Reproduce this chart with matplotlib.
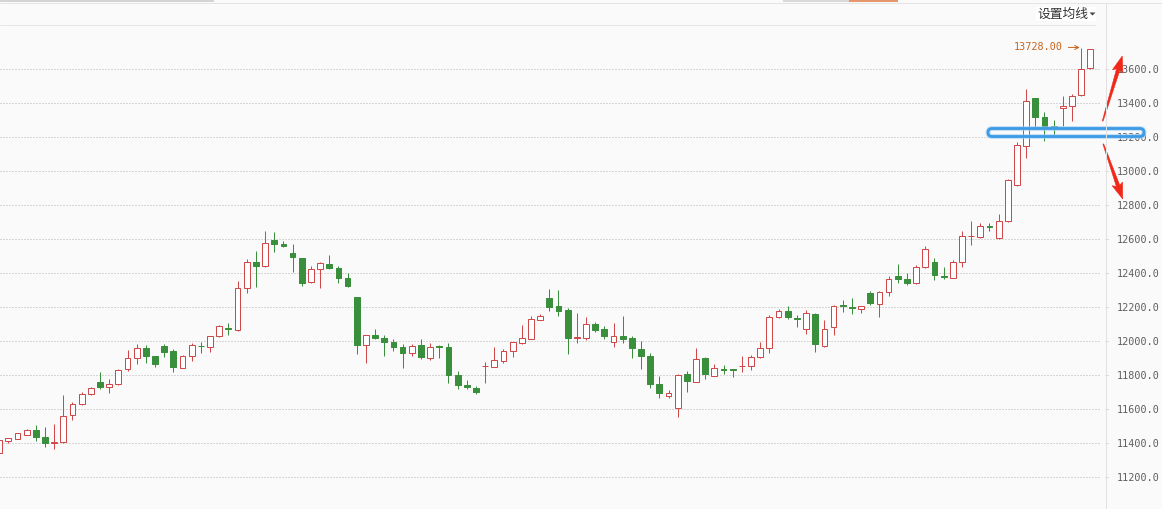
import matplotlib
matplotlib.use('Agg')
import matplotlib.pyplot as plt
from matplotlib.patches import Rectangle, FancyBboxPatch, Polygon
from matplotlib.transforms import IdentityTransform
from matplotlib.lines import Line2D
import numpy as np

plt.rcParams['lines.scale_dashes'] = False

# ---- data (daily OHLC, first candle partially off-screen) ----
opens = [11345, 11415, 11427, 11451, 11478, 11435, 11404, 11410, 11565, 11629,
         11688, 11761, 11729, 11747, 11835, 11900, 11960, 11913, 11972, 11943,
         11845, 11911, 11975, 11968, 12029, 12076, 12064, 12311, 12466, 12441,
         12596, 12572, 12519, 12490, 12351, 12423, 12455, 12429, 12370, 12261,
         11976, 12037, 12021, 11996, 11966, 11929, 11976, 11900, 11970, 11966,
         11802, 11743, 11723, 11853, 11851, 11886, 11945, 11992, 12015, 12127,
         12255, 12208, 12184, 12019, 12021, 12104, 12072, 11998, 12031, 12019,
         11955, 11914, 11749, 11680, 11610, 11808, 11763, 11900, 11798, 11837,
         11835, 11853, 11857, 11906, 11959, 12141, 12176, 12137, 12074, 12161,
         11970, 12086, 12212, 12202, 12192, 12284, 12221, 12288, 12384, 12367,
         12341, 12439, 12466, 12384, 12374, 12464, 12617, 12612, 12678, 12606,
         12706, 12917, 13147, 13429, 13317, 13267, 13370, 13382, 13447, 13606]
highs = [11422, 11430, 11463, 11484, 11508, 11498, 11514, 11684, 11643, 11702,
         11731, 11819, 11778, 11839, 11949, 11982, 11976, 11915, 11984, 11955,
         11919, 11990, 11994, 12033, 12094, 12106, 12355, 12486, 12531, 12649,
         12641, 12590, 12572, 12492, 12443, 12468, 12508, 12443, 12400, 12263,
         12037, 12072, 12037, 12013, 11984, 11982, 12013, 11988, 11980, 11988,
         11825, 11772, 11739, 11878, 11966, 11955, 11998, 12096, 12149, 12161,
         12308, 12302, 12194, 12166, 12141, 12114, 12088, 12108, 12149, 12031,
         12002, 11931, 11794, 11712, 11806, 11825, 11961, 11910, 11864, 11861,
         11837, 11912, 11918, 11998, 12153, 12188, 12206, 12157, 12182, 12166,
         12123, 12213, 12243, 12253, 12208, 12296, 12296, 12382, 12455, 12400,
         12449, 12561, 12490, 12437, 12478, 12649, 12708, 12694, 12694, 12749,
         12957, 13172, 13484, 13431, 13347, 13302, 13441, 13455, 13728, 13722]
lows = [11340, 11400, 11425, 11450, 11415, 11380, 11365, 11404, 11537, 11627,
        11686, 11721, 11698, 11745, 11827, 11864, 11874, 11851, 11906, 11821,
        11841, 11886, 11933, 11935, 12027, 12039, 12062, 12286, 12321, 12439,
        12527, 12557, 12410, 12327, 12345, 12315, 12427, 12345, 12321, 11925,
        11874, 12012, 11913, 11943, 11845, 11913, 11898, 11892, 11904, 11757,
        11721, 11721, 11688, 11757, 11849, 11870, 11910, 11986, 12013, 12125,
        12180, 12151, 11927, 11992, 12010, 12057, 12015, 11968, 11988, 11904,
        11839, 11727, 11669, 11669, 11557, 11702, 11761, 11776, 11796, 11810,
        11792, 11817, 11831, 11904, 11933, 12139, 12131, 12086, 12045, 11937,
        11968, 12037, 12174, 12163, 12168, 12212, 12145, 12265, 12345, 12333,
        12339, 12433, 12361, 12368, 12372, 12439, 12568, 12610, 12651, 12604,
        12704, 12915, 13080, 13247, 13176, 13214, 13268, 13298, 13445, 13600]
closes = [11420, 11429, 11461, 11478, 11439, 11404, 11408, 11561, 11631, 11690,
          11723, 11733, 11749, 11831, 11900, 11959, 11915, 11868, 11939, 11851,
          11913, 11976, 11970, 12029, 12088, 12072, 12311, 12464, 12445, 12576,
          12574, 12563, 12498, 12345, 12423, 12461, 12433, 12374, 12327, 11980,
          12035, 12021, 11998, 11968, 11933, 11970, 11908, 11964, 11966, 11804,
          11745, 11729, 11700, 11857, 11890, 11943, 11996, 12017, 12129, 12149,
          12204, 12180, 12021, 12023, 12102, 12068, 12033, 12031, 12015, 11963,
          11915, 11751, 11698, 11694, 11802, 11768, 11896, 11810, 11841, 11833,
          11831, 11857, 11906, 11959, 12141, 12176, 12141, 12133, 12165, 11986,
          12070, 12206, 12208, 12198, 12206, 12227, 12290, 12367, 12369, 12345,
          12437, 12543, 12392, 12380, 12466, 12618, 12621, 12678, 12674, 12706,
          12947, 13157, 13416, 13321, 13259, 13263, 13382, 13443, 13600, 13720]

y_ticks = [11200, 11400, 11600, 11800, 12000, 12200, 12400, 12600, 12800,
           13000, 13200, 13400, 13600]
y_tick_labels = ['11200.0', '11400.0', '11600.0', '11800.0', '12000.0',
                 '12200.0', '12400.0', '12600.0', '12800.0', '13000.0',
                 '13200.0', '13400.0', '13600.0']
max_label = '13728.00'
max_value = 13728
menu_label = '设置均线'

# ---- figure ----
W, H = 1162, 509
BG = '#fafafa'
RED = '#d04848'
GREEN = '#3a8f3c'
ORANGE = '#c8641e'

fig = plt.figure(figsize=(W / 100, H / 100), dpi=100, facecolor=BG)
ax = fig.add_axes([0, 0, 1105 / W, 485 / H])
ax.set_facecolor(BG)
for s in ax.spines.values():
    s.set_visible(False)

n = len(opens)
xs = np.arange(n) - 1
ax.set_xlim(-0.905, 119.6)
ax.set_ylim(11013.5, 13866.5)

# grid lines (dotted)
ax.hlines(y_ticks, -0.905, 119.05, colors='#b4b4b4', linewidth=0.72,
          linestyles=[(0, (0.72, 1.44))], zorder=0)

w = 0.63
for x, o, h, l, c in zip(xs, opens, highs, lows, closes):
    if c >= o:
        top, bot = c, o
        hgt = max(top - bot, 3)
        ax.vlines(x, top, h, colors=RED, linewidth=0.72, zorder=2)
        ax.vlines(x, l, bot, colors=RED, linewidth=0.72, zorder=2)
        ax.add_patch(Rectangle((x - w / 2, bot), w, hgt, facecolor='#ffffff',
                               edgecolor=RED, linewidth=0.72, zorder=3))
    else:
        hgt = max(o - c, 3)
        ax.vlines(x, l, h, colors=GREEN, linewidth=0.72, zorder=2)
        ax.add_patch(Rectangle((x - w / 2, c), w, hgt, facecolor=GREEN,
                               edgecolor=GREEN, linewidth=0.72, zorder=3))

# y ticks on the right
ax.set_xticks([])
ax.yaxis.tick_right()
ax.set_yticks(y_ticks)
ax.set_yticklabels(y_tick_labels)
ax.tick_params(axis='y', length=2.2, width=0.72, color='#d0d0d0', pad=6.5,
               labelsize=7.3, labelcolor='#5f5f5f')
for lbl in ax.get_yticklabels():
    lbl.set_family('DejaVu Sans Mono')

# max annotation
ax.annotate(max_label, xy=(117, max_value), xytext=(115.0, 13731),
            ha='right', va='center', color=ORANGE, fontsize=7.3,
            family='DejaVu Sans Mono',
            arrowprops=dict(arrowstyle='->', color=ORANGE, lw=0.7,
                            shrinkA=2, shrinkB=1), zorder=5)

# ---- decorations in pixel coordinates ----
ID = IdentityTransform()


def pline(x0, y0, x1, y1, color, lw=1.0):
    fig.add_artist(Line2D([x0, x1], [H - y0, H - y1], transform=ID,
                          color=color, linewidth=lw * 0.72,
                          solid_capstyle='butt'))


# header bars and separators
pline(0, 0.5, 214, 0.5, '#c8c8c8', 1.5)
pline(783, 0.5, 849, 0.5, '#cfcfcf', 1.5)
pline(849, 0.5, 898, 0.5, '#e0763c', 1.5)
pline(0, 2.5, W, 2.5, '#e4e4e4', 1)
pline(0, 24.5, 1096, 24.5, '#e6e6e6', 1)
pline(1105.5, 3, 1105.5, H, '#e2e2e2', 1)

# menu label
fig.add_artist(Rectangle((1036, H - 21), 60, 14, transform=ID,
                         facecolor='#ffffff', edgecolor='none'))
fig.text(1037 / W, 1 - 14 / H, menu_label, family=['Noto Sans CJK SC', 'DejaVu Sans'],
         fontsize=9.2, color='#333333', ha='left', va='center')
fig.add_artist(Polygon([[1089.5, H - 12.5], [1095.5, H - 12.5], [1092.5, H - 15.5]],
                       closed=True, transform=ID, facecolor='#444444',
                       edgecolor='none'))

# blue highlight box
for lw, col, alpha in [(5.0, '#9fd0f5', 0.6), (2.8, '#3d9be6', 1.0)]:
    fig.add_artist(FancyBboxPatch((988, H - 136.5), 156, 8,
                                  boxstyle='round,pad=0,rounding_size=4',
                                  transform=ID, facecolor='none',
                                  edgecolor=col, linewidth=lw * 0.72, alpha=alpha))


def tapered_arrow(tail, tip, color):
    t = np.array([tail[0], H - tail[1]], float)
    p = np.array([tip[0], H - tip[1]], float)
    d = p - t
    L = np.hypot(*d)
    u = d / L
    nrm = np.array([-u[1], u[0]])
    head_len, head_half, sh_tail, sh_head = 14, 5.5, 0.4, 1.8
    base = p - u * head_len
    pts = [t + nrm * sh_tail, base + nrm * sh_head, base - u * 2 + nrm * head_half,
           p, base - u * 2 - nrm * head_half, base - nrm * sh_head, t - nrm * sh_tail]
    fig.add_artist(Polygon(pts, closed=True, transform=ID, facecolor=color,
                           edgecolor=color, linewidth=0.4))


tapered_arrow((1102.7, 121), (1122.3, 56), '#f0281a')
tapered_arrow((1103.3, 144), (1122.7, 199), '#f0281a')

fig.savefig('out.png', dpi=100, facecolor=BG)
